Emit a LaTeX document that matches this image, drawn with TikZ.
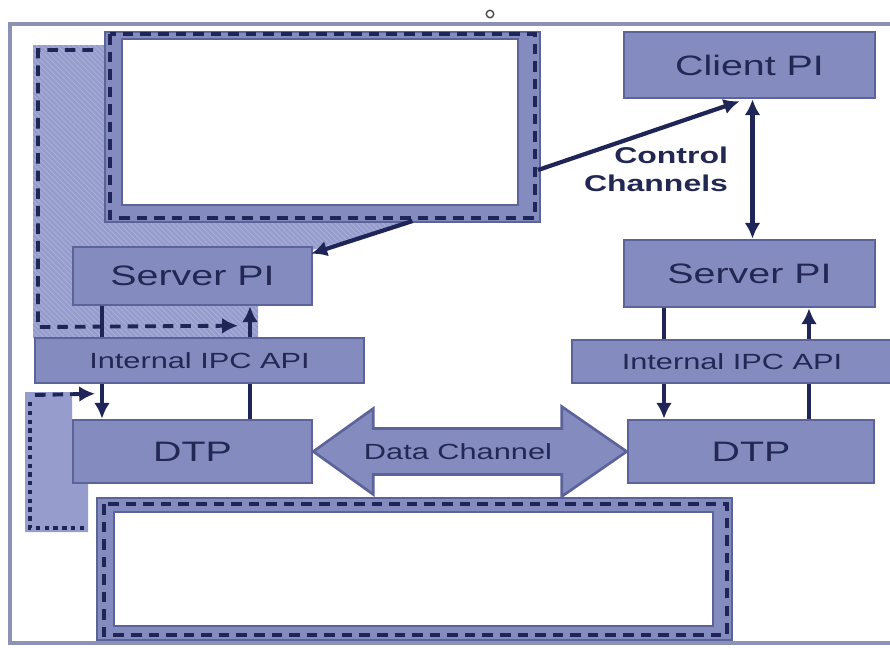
\documentclass[tikz,border=0pt]{standalone}
\usepackage{fontspec}
\setmainfont{Liberation Sans}
\usetikzlibrary{shapes,arrows.meta,positioning,patterns,calc}

\definecolor{boxfill}{RGB}{132,139,190}
\definecolor{boxedge}{RGB}{92,99,155}
\definecolor{navy}{RGB}{32,37,88}
\definecolor{hatchfill}{RGB}{150,157,205}
\definecolor{hatchline}{RGB}{172,178,218}
\definecolor{framec}{RGB}{140,146,182}
\definecolor{textc}{RGB}{34,39,84}

% stretched text, the labels are wide
\newcommand{\wtxt}[1]{\scalebox{1.4}[1]{#1}}

\tikzset{
  blk/.style={draw=boxedge, line width=1.5pt, fill=boxfill, text=textc, inner sep=0pt,
    font=\fontsize{16}{18}\selectfont},
  api/.style={blk, font=\fontsize{12.5}{14}\selectfont},
  band/.style={draw=boxedge, line width=1.2pt, fill=boxfill, inner sep=0pt},
  dashln/.style={navy, line width=2.2pt, dash pattern=on 6pt off 4pt},
  dotln/.style={navy, line width=2.6pt, dash pattern=on 2.5pt off 2.5pt},
  link/.style={navy, line width=2.4pt},
  tip/.style={-{Latex[length=9pt,width=9pt]}},
}

\begin{document}
\begin{tikzpicture}[x=0.02cm,y=-0.02cm]
\useasboundingbox (0,0) rectangle (890,647);

% frame
\draw[framec, line width=2pt] (890,24) -- (10,24) -- (10,643) -- (890,643);
\node[circle, draw=black!70, line width=0.8pt, minimum size=0.15cm, inner sep=0pt] (pin) at (490,14) {};

% hatched areas
\fill[hatchfill] (33,45) -- (105,45) -- (105,222) -- (413,222) -- (312,250) -- (312,305)
  -- (258,305) -- (258,338) -- (33,338) -- cycle;
\fill[pattern=north west lines, pattern color=hatchline] (33,45) -- (105,45) -- (105,222)
  -- (413,222) -- (312,250) -- (312,305) -- (258,305) -- (258,338) -- (33,338) -- cycle;
\fill[hatchfill] (25,392) -- (72,392) -- (72,483) -- (88,483) -- (88,532) -- (25,532) -- cycle;

% empty boxes
\node[band, minimum width=8.7cm, minimum height=3.8cm] (topbox) at (322.5,127) {};
\filldraw[fill=white, draw=boxedge, line width=1pt] ($(topbox.north west)+(18,8)$) rectangle ($(topbox.south east)+(-23,-18)$);
\draw[dashln] ($(topbox.north west)+(6,3)$) rectangle ($(topbox.south east)+(-6,-5)$);

\node[band, minimum width=12.7cm, minimum height=2.84cm] (botbox) at (414.5,569) {};
\filldraw[fill=white, draw=boxedge, line width=1pt] ($(botbox.north west)+(18,15)$) rectangle ($(botbox.south east)+(-20,-15)$);
\draw[dashln] ($(botbox.north west)+(8,7)$) rectangle ($(botbox.south east)+(-6,-6)$);

% boxes
\node[blk, minimum width=4.78cm, minimum height=1.16cm] (spiL) at (192.5,276) {\wtxt{Server PI}};
\node[api, minimum width=6.58cm, minimum height=0.9cm] (ipcL) at (199.5,360.5) {\wtxt{Internal IPC API}};
\node[blk, minimum width=4.78cm, minimum height=1.26cm] (dtpL) at (192.5,451.5) {\wtxt{DTP}};

\node[blk, minimum width=5.02cm, minimum height=1.32cm] (cpi) at (749.5,65) {\wtxt{Client PI}};
\node[blk, minimum width=5.02cm, minimum height=1.34cm] (spiR) at (749.5,273.5) {\wtxt{Server PI}};
\node[api, minimum width=6.4cm, minimum height=0.86cm] (ipcR) at (732,361.5) {\wtxt{Internal IPC API}};
\node[blk, minimum width=4.92cm, minimum height=1.26cm] (dtpR) at (751,451.5) {\wtxt{DTP}};

% data channel
\filldraw[draw=boxedge, fill=boxfill, line width=1.5pt] (dtpL.east) -- ++(60,-43) -- ++(0,20)
  -- ($(dtpR.west)+(-65,-23)$) -- ++(0,-22) -- (dtpR.west) -- ++(-65,45) -- ++(0,-22)
  -- ($(dtpL.east)+(60,23)$) -- ++(0,20) -- cycle;
\node[text=textc, font=\fontsize{12.5}{14}\selectfont] (dchan) at ($(dtpL.east)!0.5!(dtpR.west)+(-12,0)$) {\wtxt{Data Channel}};

% columns of the links
\coordinate (la) at (102,0);
\coordinate (lb) at (250,0);
\coordinate (ra) at (664,0);
\coordinate (rb) at (809,0);

\draw[link] (spiL.south -| la) -- (ipcL.north -| la);
\draw[link, tip] (ipcL.north -| lb) -- (spiL.south -| lb);
\draw[link, tip] (ipcL.south -| la) -- (dtpL.north -| la);
\draw[link] (dtpL.north -| lb) -- (ipcL.south -| lb);

\draw[link] (spiR.south -| ra) -- (ipcR.north -| ra);
\draw[link, tip] (ipcR.north -| rb) -- (spiR.south -| rb);
\draw[link, tip] (ipcR.south -| ra) -- (dtpR.north -| ra);
\draw[link] (dtpR.north -| rb) -- (ipcR.south -| rb);

% control channels
\draw[link, tip] ($(topbox.south)+(90,-2)$) -- ($(spiL.north east)+(-2,8)$);
\draw[link, tip] ($(topbox.east)+(-3,43)$) -- ($(cpi.south)+(-10,2)$);
\draw[link, {Latex[length=9pt,width=9pt]}-{Latex[length=9pt,width=9pt]}] ($(cpi.south)+(3,0)$) -- ($(spiR.north)+(3,0)$);
\node[text=textc, align=right, font=\bfseries\fontsize{13}{16}\selectfont] (ctltxt) at (656,169) {\wtxt{Control}\\\wtxt{Channels}};

% dashed hooks
\coordinate (hookA) at (93,50);
\coordinate (hookB) at (35,395);
\draw[dashln, tip] (hookA) -- (38,50) -- (38,327) -- ($(ipcL.north -| lb)+(-12,-11)$);
\draw[dashln, tip] (hookB) -- ($(dtpL.north -| la)+(-7,-25)$);
\draw[dotln] (30,402) -- (30,528) -- (88,528);

\end{tikzpicture}
\end{document}
